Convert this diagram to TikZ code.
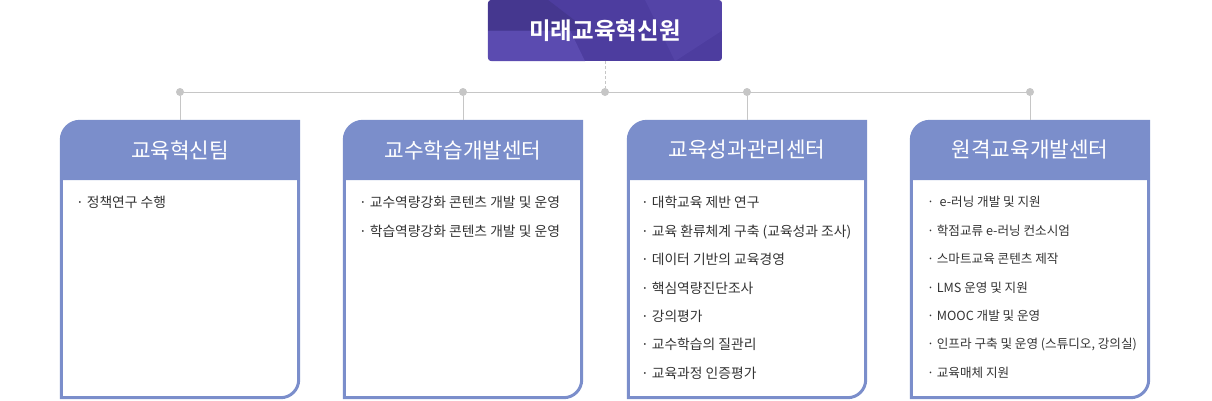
\documentclass[tikz,border=0pt]{standalone}
\usepackage{fontspec}
\setmainfont{Noto Sans CJK KR}[BoldFont={Noto Sans CJK KR Bold}]
\usetikzlibrary{positioning,calc,backgrounds}
\definecolor{topfill}{HTML}{4D3D9F}
\definecolor{toplight}{HTML}{5B4BB0}
\definecolor{topdark}{HTML}{45378F}
\definecolor{hdrfill}{HTML}{7B8ECB}
\definecolor{linegray}{HTML}{C6C6C6}
\definecolor{txtgray}{HTML}{333333}
\tikzstyle{topbox} = [rectangle, minimum width=234pt, minimum height=61pt, text=white, font=\fontsize{23.5}{26}\selectfont\bfseries]
\tikzstyle{hdr} = [rectangle, minimum width=240pt, minimum height=60pt, text=white, font=\fontsize{21.3}{24}\selectfont]
\tikzstyle{items} = [anchor=north west, align=left, text=txtgray, inner sep=0pt, font=\fontsize{13.8}{28.4}\selectfont]
\tikzstyle{dot} = [circle, fill=linegray, inner sep=0pt, minimum size=8pt]
\tikzstyle{link} = [draw=linegray, line width=1pt]
\tikzstyle{edge} = [draw=hdrfill, line width=3pt]

\begin{document}
\begin{tikzpicture}[x=1pt, y=-1pt]
	\useasboundingbox (0,0) rectangle (1212,400);
	\node (top) [topbox] at (605,30.5) {미래교육혁신원};
	\node (d0) [dot] at (605,92) {};
	\node (d1) [dot] at (180,92) {};
	\node (d2) [dot] at (463,92) {};
	\node (d3) [dot] at (747,92) {};
	\node (d4) [dot] at (1030,92) {};
	\node (h1) [hdr] at (180,150) {교육혁신팀};
	\node (h2) [hdr] at (463,150) {교수학습개발센터};
	\node (h3) [hdr] at (747,150) {교육성과관리센터};
	\node (h4) [hdr] at (1030,150) {원격교육개발센터};
	% items under each header
	\node (t1) [items, below right=16pt and 16pt of h1.south west] {· 정책연구 수행};
	\node (t2) [items, below right=16pt and 16pt of h2.south west] {· 교수역량강화 콘텐츠 개발 및 운영\\· 학습역량강화 콘텐츠 개발 및 운영};
	\node (t3) [items, below right=16pt and 14pt of h3.south west] {· 대학교육 제반 연구\\· 교육 환류체계 구축 (교육성과 조사)\\· 데이터 기반의 교육경영\\· 핵심역량진단조사\\· 강의평가\\· 교수학습의 질관리\\· 교육과정 인증평가};
	\node (t4) [items, below right=16pt and 17pt of h4.south west, font=\fontsize{12.6}{28.4}\selectfont] {·\ \ e-러닝 개발 및 지원\\· 학점교류 e-러닝 컨소시엄\\· 스마트교육 콘텐츠 제작\\· LMS 운영 및 지원\\· MOOC 개발 및 운영\\· 인프라 구축 및 운영 (스튜디오, 강의실)\\· 교육매체 지원};
	\begin{scope}[on background layer]
		\begin{scope}
			\clip[rounded corners=4pt] (top.north west) rectangle (top.south east);
			\fill[topfill] (top.north west) rectangle (top.south east);
			\fill[toplight] (top.west) -- ($(top.north)+(-35,30.5)$) -- ($(top.south)+(-20,0)$) -- (top.south west) -- cycle;
			\fill[topdark] (top.north west) -- ($(top.north west)+(60,0)$) -- ($(top.west)+(100,0)$) -- (top.west) -- cycle;
			\fill[toplight, opacity=0.5] ($(top.north)+(40,0)$) -- (top.north east) -- (top.east) -- ($(top.south)+(70,0)$) -- cycle;
		\end{scope}
		\foreach \h in {h1,h2,h3,h4}
			\fill[hdrfill] (\h.south west) -- ([yshift=-20pt]\h.north west) arc[start angle=180, end angle=90, radius=20pt] -- (\h.north east) -- (\h.south east) -- cycle;
	\end{scope}
	% connectors
	\draw [link, dash pattern=on 3pt off 2pt](top) -- (d0);
	\draw [link](d1.center) -- (d4.center);
	\draw [link](d1) -- (h1);
	\draw [link](d2) -- (h2);
	\draw [link](d3) -- (h3);
	\draw [link](d4) -- (h4);
	% box outlines
	\foreach \h in {h1,h2,h3,h4}
		\draw [edge] ([xshift=-1.5pt]\h.south east) -- ++(0,199.5) arc[start angle=0, end angle=-90, radius=18pt] -- ([xshift=1.5pt,yshift=-217.5pt]\h.south west) -- ([xshift=1.5pt]\h.south west);
\end{tikzpicture}
\end{document}
